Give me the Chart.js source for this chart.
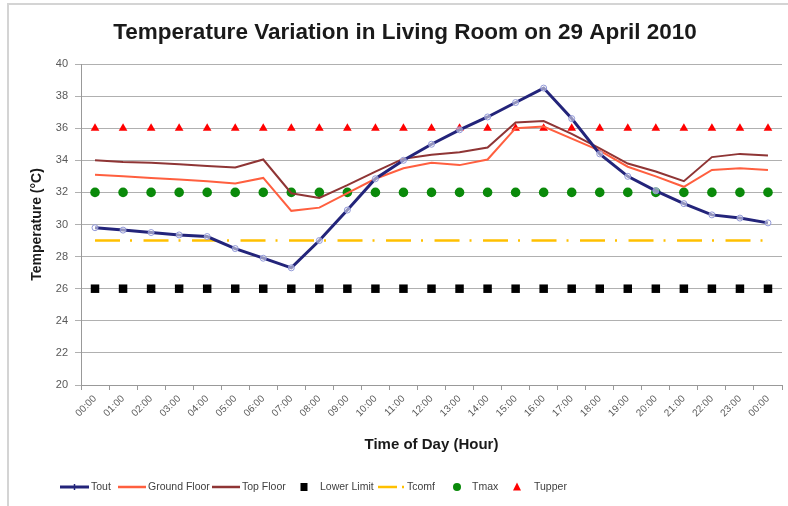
<!DOCTYPE html>
<html>
<head>
<meta charset="utf-8">
<title>Temperature Variation in Living Room</title>
<script src="https://cdn.jsdelivr.net/npm/chart.js@4"></script>
<style>
  html, body { margin: 0; padding: 0; background: #fff; }
  #wrap { position: relative; width: 788px; height: 506px; }
</style>
</head>
<body>
<div id="wrap"><canvas id="chart" width="788" height="506"></canvas></div>
<script>
// Hours of the day (x categories)
const hours = ["00:00", "01:00", "02:00", "03:00", "04:00", "05:00", "06:00", "07:00", "08:00",
  "09:00", "10:00", "11:00", "12:00", "13:00", "14:00", "15:00", "16:00", "17:00", "18:00",
  "19:00", "20:00", "21:00", "22:00", "23:00", "00:00"];

// Measured temperatures (°C)
const tout = [29.8, 29.65, 29.5, 29.35, 29.25, 28.5, 27.9, 27.3, 29.0, 30.9, 32.85, 34.0, 35.0,
  35.9, 36.7, 37.6, 38.5, 36.6, 34.4, 33.0, 32.1, 31.3, 30.6, 30.4, 30.1];
const groundFloor = [33.1, 33.0, 32.9, 32.8, 32.7, 32.55, 32.9, 30.85, 31.05, 31.95, 32.85, 33.5,
  33.85, 33.7, 34.05, 36.0, 36.1, 35.35, 34.6, 33.6, 33.0, 32.35, 33.4, 33.5, 33.4];
const topFloor = [34.0, 33.9, 33.85, 33.75, 33.65, 33.55, 34.05, 31.95, 31.65, 32.45, 33.3, 34.1,
  34.35, 34.5, 34.8, 36.35, 36.45, 35.65, 34.75, 33.8, 33.3, 32.7, 34.2, 34.4, 34.3];

// Reference limits
const lowerLimit = [26, 26, 26, 26, 26, 26, 26, 26, 26, 26, 26, 26, 26, 26, 26, 26, 26, 26, 26, 26, 26, 26, 26, 26, 26];
const tcomf = [29, 29, 29, 29, 29, 29, 29, 29, 29, 29, 29, 29, 29, 29, 29, 29, 29, 29, 29, 29, 29, 29, 29, 29, 29];
const tmax = [32, 32, 32, 32, 32, 32, 32, 32, 32, 32, 32, 32, 32, 32, 32, 32, 32, 32, 32, 32, 32, 32, 32, 32, 32];
const tupper = [36, 36, 36, 36, 36, 36, 36, 36, 36, 36, 36, 36, 36, 36, 36, 36, 36, 36, 36, 36, 36, 36, 36, 36, 36];

// Y axis range
const yMin = 20;
const yMax = 40;
const yStep = 2;

const FONT = "'Liberation Sans', Arial, sans-serif";

// Colours
const colors = {
  tout: "#23247a",
  toutMarker: "#9198d8",
  ground: "#ff5f3f",
  top: "#8f3535",
  lower: "#000000",
  tcomf: "#ffc000",
  tmax: "#0a8a0a",
  tupper: "#ff0000",
};

// Frame around the chart (Excel chart border)
const framePlugin = {
  id: "frame",
  beforeDraw(chart) {
    const ctx = chart.ctx;
    ctx.save();
    ctx.fillStyle = "#fff";
    ctx.fillRect(0, 0, chart.width, chart.height);
    ctx.strokeStyle = "#d4d4d4";
    ctx.lineWidth = 2;
    ctx.strokeRect(8, 4, chart.width, chart.height);
    ctx.restore();
  },
};

// Legend drawn under the axis title, Excel style
const legendItems = [
  { text: "Tout", kind: "lineMarker", x: 60, w: 29, color: colors.tout },
  { text: "Ground Floor", kind: "line", x: 118, w: 28, color: colors.ground },
  { text: "Top Floor", kind: "line", x: 212, w: 28, color: colors.top },
  { text: "Lower Limit", kind: "rect", x: 304, tx: 320, color: colors.lower },
  { text: "Tcomf", kind: "dash", x: 378, tx: 407, color: colors.tcomf },
  { text: "Tmax", kind: "circle", x: 457, tx: 472, color: colors.tmax },
  { text: "Tupper", kind: "triangle", x: 517, tx: 534, color: colors.tupper },
];

const legendPlugin = {
  id: "excelLegend",
  afterDraw(chart) {
    const ctx = chart.ctx;
    const y = 487;
    ctx.save();
    ctx.font = "10.5px " + FONT;
    ctx.textBaseline = "middle";
    ctx.textAlign = "left";
    legendItems.forEach((it) => {
      let tx;
      ctx.strokeStyle = it.color;
      ctx.fillStyle = it.color;
      if (it.kind === "line" || it.kind === "lineMarker") {
        ctx.lineWidth = it.kind === "lineMarker" ? 3 : 2.5;
        ctx.beginPath();
        ctx.moveTo(it.x, y);
        ctx.lineTo(it.x + it.w, y);
        ctx.stroke();
        if (it.kind === "lineMarker") {
          ctx.lineWidth = 1.5;
          ctx.beginPath();
          ctx.moveTo(it.x + it.w / 2, y - 3);
          ctx.lineTo(it.x + it.w / 2, y + 3);
          ctx.stroke();
        }
        tx = it.x + it.w + 2;
      } else if (it.kind === "rect") {
        ctx.fillRect(it.x - 3.5, y - 4, 7, 8);
        tx = it.tx;
      } else if (it.kind === "dash") {
        ctx.lineWidth = 2.5;
        ctx.beginPath();
        ctx.moveTo(it.x, y);
        ctx.lineTo(it.x + 19, y);
        ctx.stroke();
        ctx.beginPath();
        ctx.moveTo(it.x + 24, y);
        ctx.lineTo(it.x + 26, y);
        ctx.stroke();
        tx = it.tx;
      } else if (it.kind === "circle") {
        ctx.beginPath();
        ctx.arc(it.x, y, 4, 0, Math.PI * 2);
        ctx.fill();
        tx = it.tx;
      } else if (it.kind === "triangle") {
        ctx.beginPath();
        ctx.moveTo(it.x, y - 4.5);
        ctx.lineTo(it.x + 4, y + 3.5);
        ctx.lineTo(it.x - 4, y + 3.5);
        ctx.closePath();
        ctx.fill();
        tx = it.tx;
      }
      ctx.fillStyle = "#404040";
      ctx.fillText(it.text, tx, y);
    });
    ctx.restore();
  },
};

const ctx = document.getElementById("chart");

new Chart(ctx, {
  type: "line",
  data: {
    labels: hours,
    datasets: [
      {
        label: "Tout",
        data: tout,
        borderColor: colors.tout,
        borderWidth: 3,
        pointRadius: 3,
        pointBorderWidth: 1,
        pointBorderColor: colors.toutMarker,
        pointBackgroundColor: "rgba(255,255,255,0.5)",
        tension: 0,
      },
      {
        label: "Ground Floor",
        data: groundFloor,
        borderColor: colors.ground,
        borderWidth: 2,
        pointRadius: 0,
        tension: 0,
      },
      {
        label: "Top Floor",
        data: topFloor,
        borderColor: colors.top,
        borderWidth: 2,
        pointRadius: 0,
        tension: 0,
      },
      {
        label: "Lower Limit",
        data: lowerLimit,
        showLine: false,
        pointStyle: "rect",
        pointRadius: 6,
        pointBorderWidth: 0,
        pointBackgroundColor: colors.lower,
        pointBorderColor: colors.lower,
      },
      {
        label: "Tcomf",
        data: tcomf,
        borderColor: colors.tcomf,
        borderWidth: 2.5,
        borderDash: [25, 10, 2, 11.5],
        pointRadius: 0,
        tension: 0,
      },
      {
        label: "Tmax",
        data: tmax,
        showLine: false,
        pointStyle: "circle",
        pointRadius: 4.8,
        pointBorderWidth: 0,
        pointBackgroundColor: colors.tmax,
        pointBorderColor: colors.tmax,
      },
      {
        label: "Tupper",
        data: tupper,
        showLine: false,
        pointStyle: "triangle",
        pointRadius: 5,
        pointBorderWidth: 0,
        pointBackgroundColor: colors.tupper,
        pointBorderColor: colors.tupper,
      },
    ],
  },
  options: {
    responsive: false,
    animation: false,
    layout: {
      padding: { left: 22, right: 0, top: 11, bottom: 38 },
    },
    plugins: {
      legend: { display: false },
      tooltip: { enabled: false },
      title: {
        display: true,
        text: "Temperature Variation in Living Room on 29 April 2010",
        color: "#1a1a1a",
        font: { family: FONT, size: 22.5, weight: "bold", lineHeight: 1.2 },
        padding: { top: 8, bottom: 18 },
      },
    },
    scales: {
      x: {
        offset: true,
        grid: {
          offset: true,
          drawOnChartArea: false,
          drawTicks: true,
          tickLength: 5,
          color: "#999",
        },
        border: { color: "#999", width: 1 },
        ticks: {
          autoSkip: false,
          minRotation: 45,
          maxRotation: 45,
          padding: 3,
          color: "#595959",
          font: { family: FONT, size: 10 },
        },
        title: {
          display: true,
          text: "Time of Day (Hour)",
          color: "#1a1a1a",
          font: { family: FONT, size: 15, weight: "bold" },
          padding: { top: 4, bottom: 14 },
        },
        afterFit(scale) {
          scale.height = 83;
          // no extra room for the rotated last label
          scale.paddingRight = 0;
          scale.getPadding = () => ({ left: 0, top: 0, right: 0, bottom: 0 });
        },
      },
      y: {
        min: yMin,
        max: yMax,
        grid: {
          color: "#b0b0b0",
          lineWidth: 1,
          tickLength: 6,
        },
        border: { color: "#999", width: 1 },
        ticks: {
          stepSize: yStep,
          padding: 7,
          color: "#595959",
          font: { family: FONT, size: 11 },
        },
        title: {
          display: true,
          text: "Temperature (°C)",
          color: "#1a1a1a",
          font: { family: FONT, size: 14, weight: "bold" },
          padding: { top: 7, bottom: 4 },
        },
        afterFit(scale) {
          scale.width = 59;
        },
      },
    },
  },
  plugins: [framePlugin, legendPlugin],
});
</script>
</body>
</html>
